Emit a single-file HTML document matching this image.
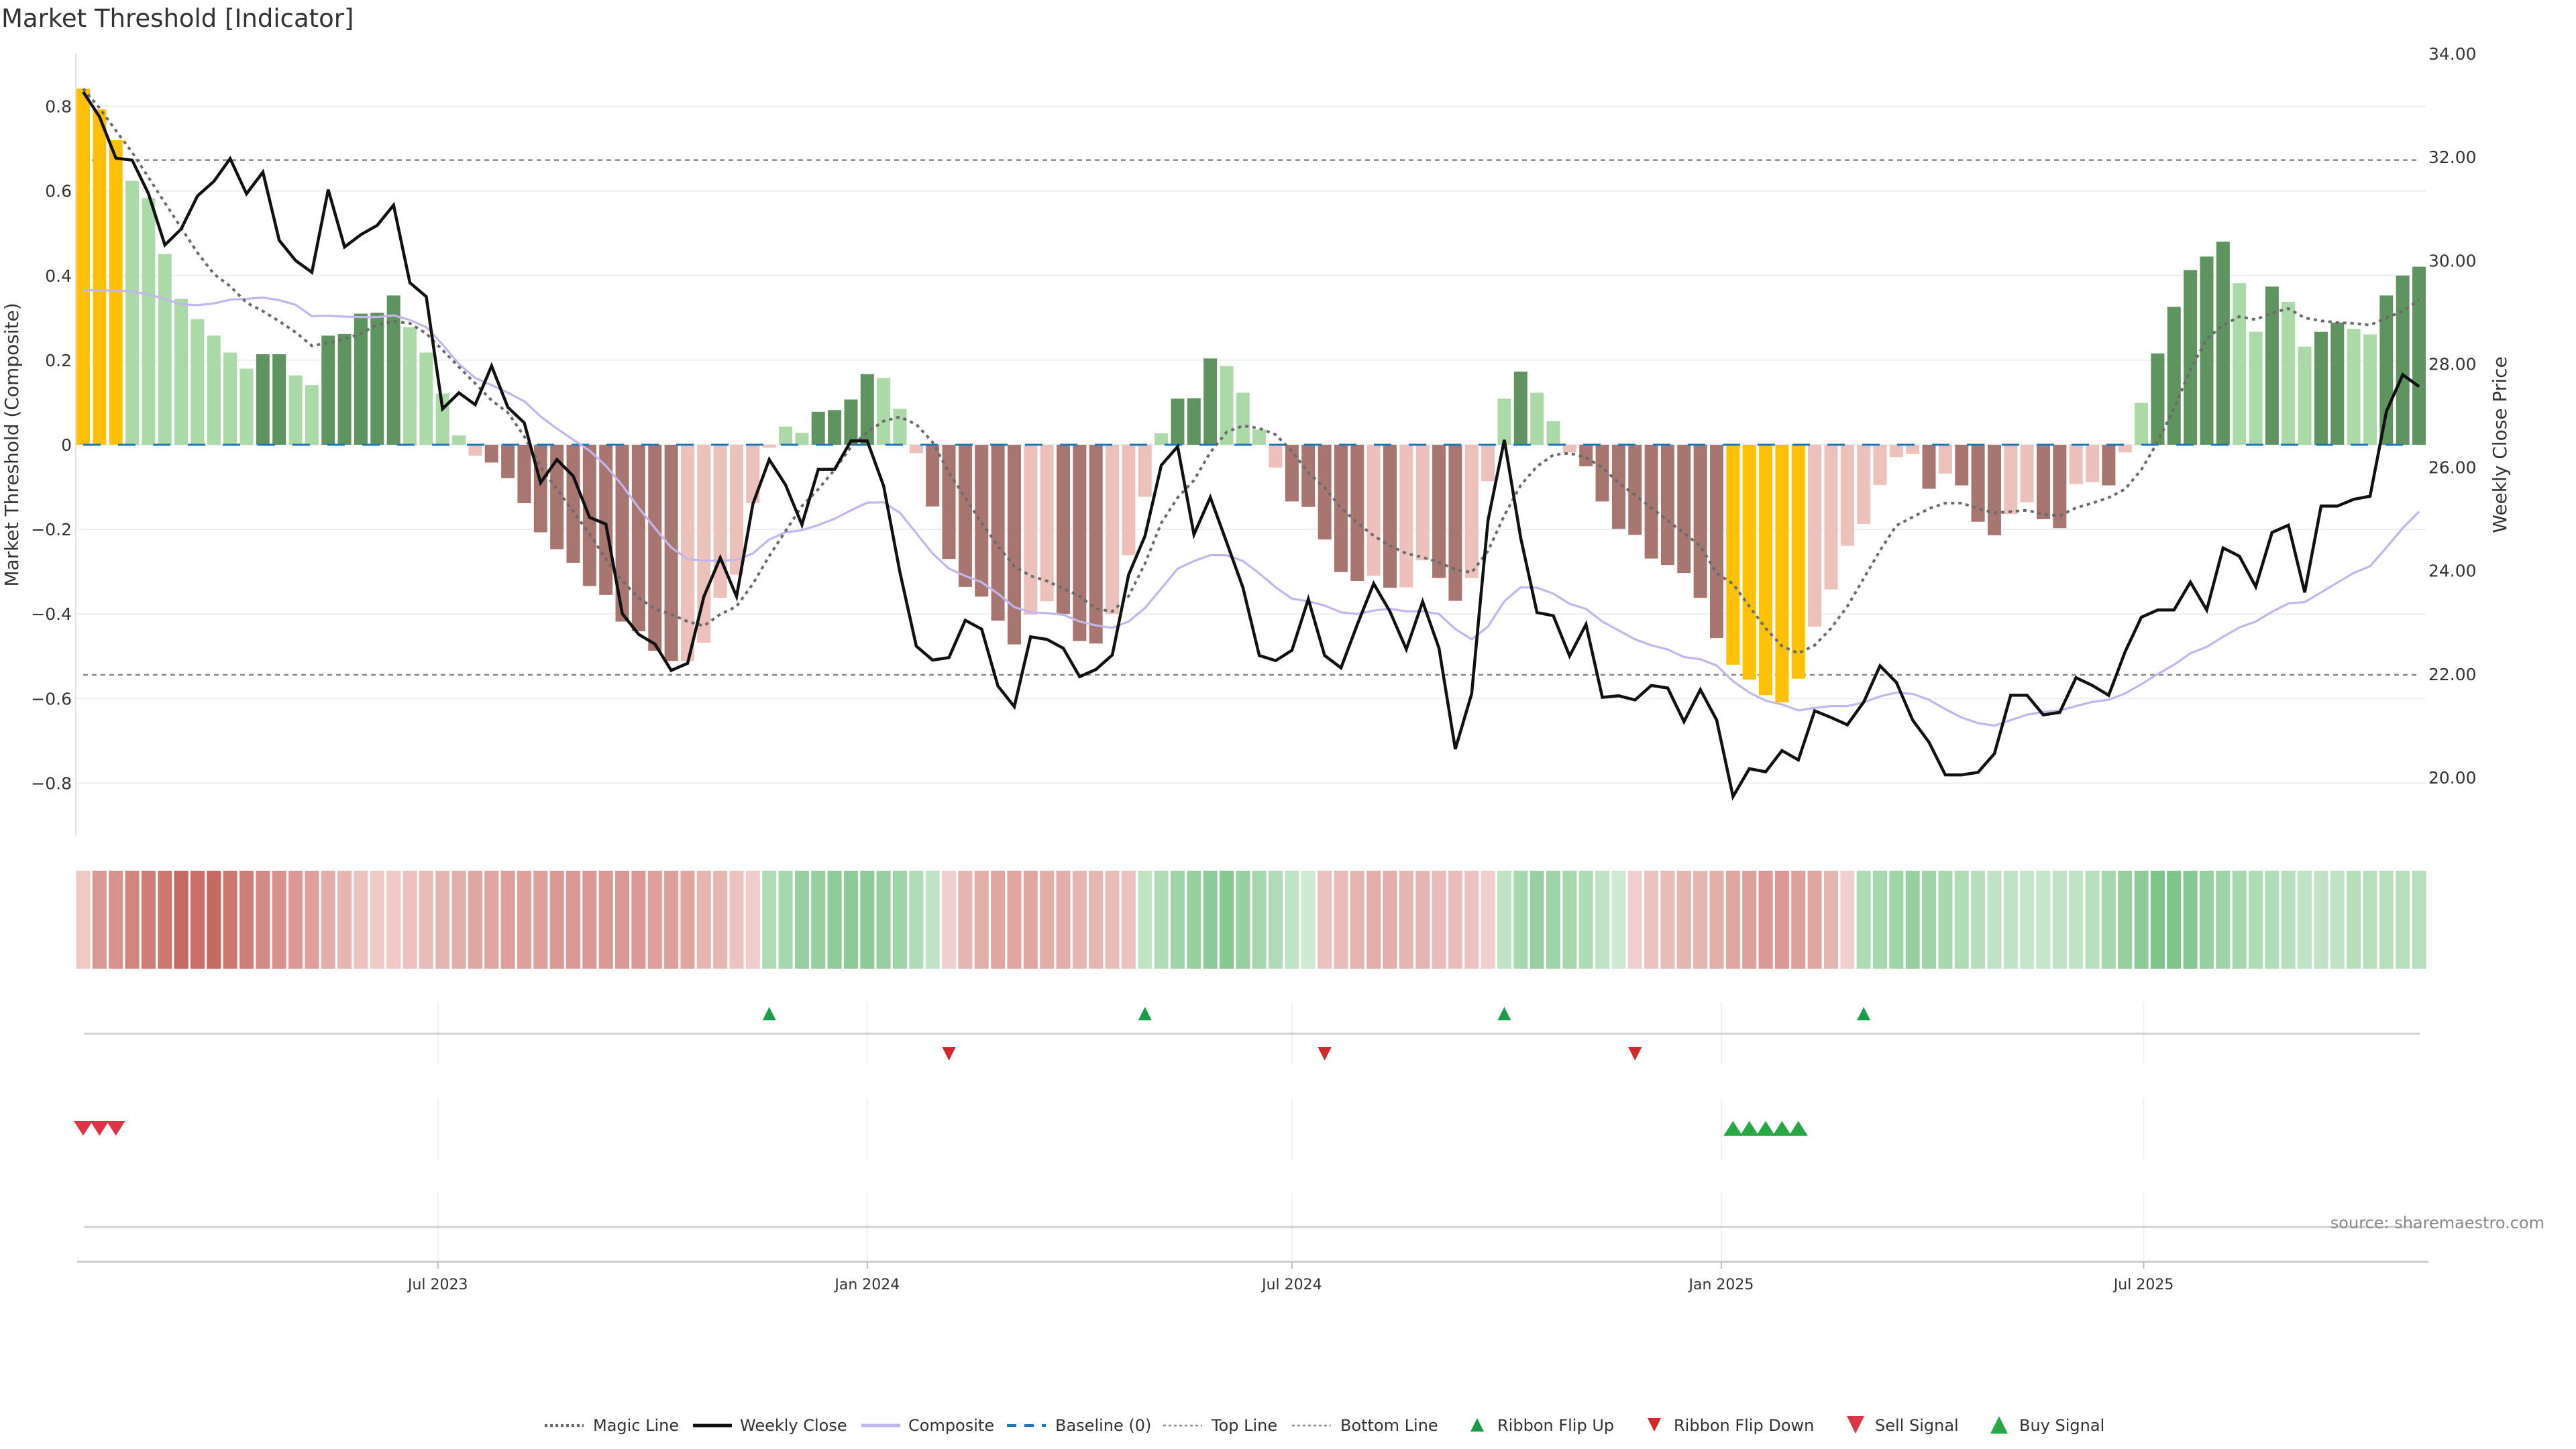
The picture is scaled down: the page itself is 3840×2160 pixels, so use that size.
<!DOCTYPE html>
<html><head><meta charset="utf-8">
<style>
html,body{margin:0;padding:0;background:#fff;}
svg{display:block;font-family:"DejaVu Sans","Liberation Sans",sans-serif;}
</style></head>
<body>
<svg id="chart" xmlns="http://www.w3.org/2000/svg" width="3840" height="2160" viewBox="0 0 3840 2160">
<rect width="3840" height="2160" fill="#fff"/>
<text x="2" y="40" font-size="37" fill="#333">Market Threshold [Indicator]</text>
<g id="grid"></g>
<g id="bars"></g>
<g id="lines"></g>
<g id="axes"></g>
<g id="ribbon"></g>
<g id="signals"></g>
<g id="xaxis"></g>
<text x="3793" y="1831" font-size="24" fill="#888" text-anchor="end">source: sharemaestro.com</text>
<g id="legend"></g>
</svg>
<script>
const NS="http://www.w3.org/2000/svg";
const barValues=[0.842,0.793,0.72,0.624,0.583,0.451,0.345,0.297,0.258,0.218,0.18,0.214,0.214,0.164,0.141,0.258,0.262,0.31,0.312,0.353,0.278,0.218,0.121,0.022,-0.026,-0.042,-0.079,-0.138,-0.207,-0.247,-0.279,-0.334,-0.355,-0.418,-0.441,-0.487,-0.511,-0.511,-0.468,-0.362,-0.307,-0.138,-0.007,0.043,0.028,0.078,0.082,0.107,0.167,
0.158,0.085,-0.020,-0.146,-0.270,-0.336,-0.359,-0.416,-0.472,-0.402,-0.370,-0.400,-0.464,-0.470,-0.400,-0.261,-0.123,0.027,0.109,0.110,0.204,0.186,0.123,0.036,-0.054,-0.134,
-0.147,-0.224,-0.301,-0.322,-0.310,-0.338,-0.337,-0.273,-0.315,-0.369,-0.315,-0.086,0.109,0.173,0.123,0.056,-0.018,-0.051,-0.134,-0.199,-0.213,-0.269,-0.284,-0.303,-0.362,-0.457,
-0.520,-0.555,-0.592,-0.609,-0.553,-0.430,-0.342,-0.239,-0.187,-0.095,-0.029,-0.022,-0.104,-0.068,-0.096,-0.182,-0.214,-0.164,-0.136,-0.176,-0.197,-0.093,-0.088,-0.096,-0.018,0.099,0.216,0.326,0.413,0.445,0.480,0.382,0.267,0.374,0.338,0.232,0.267,0.289,0.274,0.261,0.353,0.400,0.421];
const barStateRuns=[['g',3],['l',8],['G',2],['l',2],['G',5],['l',4],['p',1],['R',12],['p',6],['l',2],['G',4],['l',2],['p',1],['R',6],['p',2],['R',3],['p',3],['l',1],['G',3],['l',3],['p',1],['R',5],['p',1],['R',1],['p',2],['R',2],['p',2],['l',1],['G',1],['l',2],['p',1],['R',9],['g',5],['p',7],['R',1],['p',1],['R',3],['p',2],['R',2],['p',2],['R',1],['p',1],['l',1],['G',5],['l',2],['G',1],['l',2],['G',2],['l',2],['G',3]];
const closePrices=[33.26,32.78,31.98,31.94,31.29,30.30,30.61,31.25,31.53,31.97,31.29,31.71,30.39,30.00,29.77,31.37,30.26,30.50,30.68,31.07,29.57,29.30,27.13,27.44,27.21,27.96,27.16,26.86,25.70,26.15,25.83,25.03,24.90,23.17,22.77,22.58,22.07,22.21,23.50,24.25,23.50,25.29,26.15,25.66,24.89,25.96,25.96,26.51,26.51,
25.64,23.97,22.54,22.27,22.32,23.04,22.87,21.77,21.37,22.72,22.67,22.50,21.95,22.09,22.37,23.92,24.67,26.04,26.40,24.70,25.42,24.55,23.67,22.36,22.26,22.46,
23.45,22.36,22.12,22.96,23.75,23.21,22.48,23.40,22.50,20.55,21.62,24.97,26.53,24.64,23.19,23.13,22.35,22.96,21.55,21.58,21.50,21.78,21.73,21.08,21.70,21.11,
19.63,20.17,20.11,20.52,20.34,21.29,21.16,21.02,21.46,22.16,21.84,21.11,20.68,20.05,20.05,20.10,20.46,21.59,21.59,21.21,21.26,21.93,21.78,21.59,22.43,23.10,23.24,23.24,23.78,23.24,24.44,24.28,23.69,24.74,24.88,23.58,25.25,25.25,25.38,25.44,27.08,27.79,27.56];
const compositeValues=[0.366,0.365,0.364,0.363,0.355,0.345,0.332,0.330,0.334,0.343,0.345,0.348,0.342,0.331,0.304,0.305,0.303,0.302,0.302,0.306,0.295,0.278,0.237,0.191,0.158,0.141,0.123,0.103,0.067,0.038,0.012,-0.014,-0.050,-0.096,-0.149,-0.197,-0.243,-0.270,-0.274,-0.274,-0.272,-0.257,-0.224,-0.207,-0.202,-0.190,-0.175,-0.155,-0.137,
-0.136,-0.161,-0.209,-0.257,-0.293,-0.310,-0.325,-0.352,-0.384,-0.396,-0.398,-0.402,-0.418,-0.427,-0.433,-0.418,-0.386,-0.340,-0.293,-0.275,-0.261,-0.261,-0.275,-0.304,-0.337,-0.364,
-0.370,-0.380,-0.396,-0.400,-0.392,-0.388,-0.394,-0.394,-0.400,-0.436,-0.460,-0.430,-0.370,-0.337,-0.338,-0.352,-0.376,-0.388,-0.418,-0.439,-0.460,-0.474,-0.484,-0.502,-0.507,-0.522,
-0.559,-0.586,-0.605,-0.614,-0.628,-0.622,-0.618,-0.618,-0.609,-0.595,-0.586,-0.589,-0.603,-0.625,-0.645,-0.658,-0.664,-0.651,-0.638,-0.632,-0.628,-0.618,-0.608,-0.603,-0.588,-0.566,-0.542,-0.520,-0.493,-0.478,-0.454,-0.432,-0.418,-0.395,-0.375,-0.372,-0.349,-0.326,-0.303,-0.287,-0.243,-0.197,-0.158];
const magicValues=[0.842,0.796,0.743,0.691,0.632,0.572,0.513,0.454,0.404,0.375,0.336,0.316,0.292,0.266,0.234,0.241,0.250,0.263,0.284,0.292,0.287,0.263,0.224,0.184,0.145,0.105,0.076,0.020,-0.053,-0.105,-0.158,-0.211,-0.270,-0.322,-0.362,-0.388,-0.401,-0.418,-0.428,-0.401,-0.382,-0.329,-0.263,-0.204,-0.145,-0.105,-0.059,-0.005,0.030,
0.056,0.066,0.048,0.006,-0.066,-0.125,-0.185,-0.239,-0.287,-0.310,-0.322,-0.340,-0.358,-0.388,-0.394,-0.358,-0.281,-0.185,-0.125,-0.084,-0.018,0.030,0.045,0.039,0.024,-0.015,
-0.066,-0.101,-0.149,-0.185,-0.215,-0.239,-0.257,-0.266,-0.278,-0.295,-0.302,-0.251,-0.167,-0.096,-0.051,-0.024,-0.020,-0.030,-0.054,-0.090,-0.119,-0.149,-0.179,-0.209,-0.239,-0.304,
-0.329,-0.382,-0.434,-0.476,-0.493,-0.474,-0.434,-0.382,-0.316,-0.250,-0.191,-0.171,-0.151,-0.138,-0.138,-0.151,-0.161,-0.158,-0.155,-0.164,-0.168,-0.149,-0.138,-0.125,-0.105,-0.059,0.007,0.086,0.178,0.250,0.283,0.303,0.296,0.312,0.322,0.300,0.293,0.289,0.287,0.283,0.300,0.316,0.342];
const ribbonValues=[-0.15,-0.5,-0.55,-0.65,-0.7,-0.75,-0.85,-0.8,-0.85,-0.75,-0.7,-0.6,-0.55,-0.5,-0.45,-0.35,-0.3,-0.2,-0.15,-0.15,-0.2,-0.25,-0.3,-0.35,-0.4,-0.4,-0.45,-0.45,-0.45,-0.5,-0.5,-0.5,-0.5,-0.5,-0.5,-0.45,-0.45,-0.4,-0.3,-0.3,-0.2,-0.12,
0.3,0.35,0.45,0.45,0.5,0.5,0.5,0.45,0.4,0.3,0.2,
-0.1,-0.3,-0.35,-0.4,-0.4,-0.4,-0.35,-0.35,-0.3,-0.3,-0.25,-0.2,
0.2,0.3,0.4,0.45,0.5,0.55,0.45,0.35,0.3,0.2,0.1,
-0.2,-0.25,-0.3,-0.35,-0.35,-0.3,-0.3,-0.25,-0.25,-0.2,-0.1,
0.2,0.35,0.45,0.4,0.35,0.3,0.2,0.1,
-0.1,-0.2,-0.25,-0.3,-0.3,-0.35,-0.4,-0.45,-0.5,-0.5,-0.45,-0.4,-0.3,-0.1,
0.3,0.35,0.4,0.45,0.4,0.35,0.3,0.25,0.2,0.2,0.15,0.15,0.2,0.2,0.25,0.35,0.45,0.5,0.6,0.6,0.55,0.45,0.4,0.35,0.3,0.3,0.25,0.2,0.2,0.2,0.25,0.25,0.25,0.25,0.25];
const flipUpIdx=[42,65,87,109];
const flipDownIdx=[53,76,95];
const sellIdx=[0,1,2];
const buyIdx=[101,102,103,104,105];
const leftTicks=[0.8,0.6,0.4,0.2,0,-0.2,-0.4,-0.6,-0.8];
const rightTicks=[34,32,30,28,26,24,22,20];
const xTickDates=["2023-07-01","2024-01-01","2024-07-01","2025-01-01","2025-07-01"];
const xTickLabels=["Jul 2023","Jan 2024","Jul 2024","Jan 2025","Jul 2025"];
const topLine=0.673, bottomLine=-0.544;
const startDate=new Date("2023-01-30T00:00:00Z");

const barStates=[];barStateRuns.forEach(([c,n])=>{for(let k=0;k<n;k++)barStates.push(c);});
const X0=124, PITCH=24.35;
const xs=i=>X0+i*PITCH;
const xDate=d=>xs((new Date(d+"T00:00:00Z")-startDate)/(7*864e5));
const yL=v=>663-v*630.5;
const yR=p=>80+(34-p)*77.07;
function mk(tag,attrs,parent){const e=document.createElementNS(NS,tag);for(const k in attrs)e.setAttribute(k,attrs[k]);if(parent)parent.appendChild(e);return e;}
const G=id=>document.getElementById(id);

const grid=G('grid');
leftTicks.forEach(v=>{const l=mk('line',{x1:113,x2:3616,y1:yL(v),y2:yL(v),stroke:'#eceff1','stroke-width':2},grid);

});
[topLine,bottomLine].forEach((v,k)=>{const l=mk('line',{x1:124,x2:3606,y1:yL(v),y2:yL(v),stroke:'#888','stroke-width':2.5,'stroke-dasharray':'7 6'},grid);

});

const colors={g:'#ffc107',G:'#5f9460',l:'#acd9a8',R:'#a87671',p:'#ecc1bb'};
const bars=G('bars');
barValues.forEach((v,i)=>{const y0=yL(0),y1=yL(v);
const r=mk('rect',{x:xs(i)-10,y:Math.min(y0,y1),width:20,height:Math.max(1,Math.abs(y1-y0)),fill:colors[barStates[i]]||'#ccc'},bars);

});
const base=mk('line',{x1:124,x2:3606,y1:yL(0),y2:yL(0),stroke:'#1f77b4','stroke-width':3,'stroke-dasharray':'26 26'},bars);



const lines=G('lines');
function path(vals,fy){return vals.map((v,i)=>(i?'L':'M')+xs(i).toFixed(1)+' '+fy(v).toFixed(1)).join(' ');}
const comp=mk('path',{d:path(compositeValues,yL),fill:'none',stroke:'#c3b6ef','stroke-width':3.2},lines);


const magic=mk('path',{d:path(magicValues,yL),fill:'none',stroke:'#6b6b6b','stroke-width':4,'stroke-dasharray':'5 6'},lines);


const close=mk('path',{d:path(closePrices,yR),fill:'none',stroke:'#111','stroke-width':4.5},lines);



const axes=G('axes');
const la=mk('line',{x1:113,x2:113,y1:80,y2:1246,stroke:'#e3e3e3','stroke-width':2},axes);


leftTicks.forEach(v=>{const t=mk('text',{x:107,y:yL(v)+9,'font-size':25,fill:'#333','text-anchor':'end'},axes);
t.textContent=v===0?'0':(v<0?'\u2212':'')+Math.abs(v).toFixed(1);

});
rightTicks.forEach(p=>{const t=mk('text',{x:3620,y:yR(p)+9,'font-size':25,fill:'#333'},axes);
t.textContent=p.toFixed(2);

});
const lt=mk('text',{x:0,y:0,'font-size':28,fill:'#333','text-anchor':'middle',transform:'translate(27,663) rotate(-90)'},axes);
lt.textContent='Market Threshold (Composite)';


const rt=mk('text',{x:0,y:0,'font-size':28,fill:'#333','text-anchor':'middle',transform:'translate(3736,663) rotate(-90)'},axes);
rt.textContent='Weekly Close Price';



const rib=G('ribbon');
function mix(a,b,t){return 'rgb('+a.map((c,k)=>Math.round(c+(b[k]-c)*t)).join(',')+')';}
ribbonValues.forEach((v,i)=>{const c=v<0?mix([246,222,220],[190,84,76],Math.min(1,-v)):mix([222,242,224],[96,180,112],Math.min(1,v/0.8));
const r=mk('rect',{x:xs(i)-10.5,y:1298,width:21,height:146,fill:c},rib);

});

const sig=G('signals');
[[1494,1587],[1638,1731],[1779,1879]].forEach(([a,b])=>{xTickDates.forEach(d=>{const l=mk('line',{x1:xDate(d),x2:xDate(d),y1:a,y2:b,stroke:'#eef0f2','stroke-width':2},sig);

});});
[1541,1829].forEach(y=>{const l=mk('line',{x1:125,x2:3608,y1:y,y2:y,stroke:'#d0d0d0','stroke-width':3},sig);

});
function tri(x,yc,w,h,up,fill,name){const d=up?`M${x-w/2} ${yc+h/2} L${x} ${yc-h/2} L${x+w/2} ${yc+h/2} Z`:`M${x-w/2} ${yc-h/2} L${x} ${yc+h/2} L${x+w/2} ${yc-h/2} Z`;
const p=mk('path',{d:d,fill:fill},sig);return p;}
flipUpIdx.forEach(i=>tri(xs(i),1511,20,20,true,'#1a9c4a','ribbon-flip-up-marker'));
flipDownIdx.forEach(i=>tri(xs(i),1571,20,20,false,'#d62728','ribbon-flip-down-marker'));
sellIdx.forEach(i=>tri(xs(i),1682,28,22,false,'#dc3545','sell-signal-marker'));
buyIdx.forEach(i=>tri(xs(i),1682,28,22,true,'#28a745','buy-signal-marker'));

const xa=G('xaxis');
const ax=mk('line',{x1:115,x2:3620,y1:1881,y2:1881,stroke:'#ccc','stroke-width':3},xa);


xTickDates.forEach((d,k)=>{const x=xDate(d);
const tk=mk('line',{x1:x,x2:x,y1:1881,y2:1891,stroke:'#bbb','stroke-width':2},xa);


const t=mk('text',{x:x,y:1922,'font-size':22,fill:'#333','text-anchor':'middle'},xa);
t.textContent=xTickLabels[k];

});

const lg=G('legend');const LY=2133;
const items=[
 {t:'Magic Line',x:884,m:'line',c:'#666',dash:'4 4',w:4,mx:812},
 {t:'Weekly Close',x:1103,m:'line',c:'#111',w:5,mx:1033},
 {t:'Composite',x:1354,m:'line',c:'#c3b6ef',w:5,mx:1284},
 {t:'Baseline (0)',x:1573,m:'line',c:'#1f77b4',dash:'14 12',w:4,mx:1501},
 {t:'Top Line',x:1806,m:'line',c:'#888',dash:'4 4',w:2.5,mx:1734},
 {t:'Bottom Line',x:1998,m:'line',c:'#888',dash:'4 4',w:2.5,mx:1926},
 {t:'Ribbon Flip Up',x:2232,m:'up',c:'#1a9c4a',mx:2190,s:20},
 {t:'Ribbon Flip Down',x:2495,m:'down',c:'#d62728',mx:2454,s:20},
 {t:'Sell Signal',x:2795,m:'down',c:'#dc3545',mx:2754,s:26},
 {t:'Buy Signal',x:3010,m:'up',c:'#28a745',mx:2968,s:26}];
items.forEach(it=>{
 const g=mk('g',{},lg);
 
 
 if(it.m==='line'){const a={x1:it.mx,x2:it.mx+58,y1:LY-8,y2:LY-8,stroke:it.c,'stroke-width':it.w};if(it.dash)a['stroke-dasharray']=it.dash;mk('line',a,g);}
 else{const x=it.mx+12,s=it.s,yc=LY-9;const d=it.m==='up'?`M${x-s/2} ${yc+s/2} L${x} ${yc-s/2} L${x+s/2} ${yc+s/2} Z`:`M${x-s/2} ${yc-s/2} L${x} ${yc+s/2} L${x+s/2} ${yc-s/2} Z`;mk('path',{d:d,fill:it.c},g);}
 const t=mk('text',{x:it.x,y:LY,'font-size':24,fill:'#333'},g);t.textContent=it.t;
});
</script>
</body></html>
